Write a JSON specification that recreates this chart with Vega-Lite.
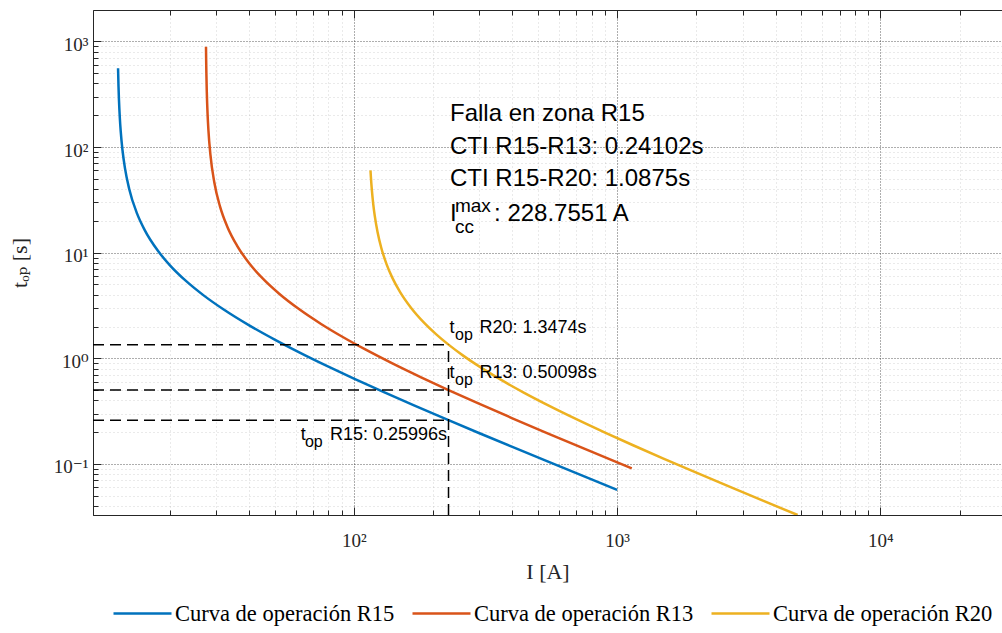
{
  "$schema": "https://vega.github.io/schema/vega-lite/v6.json",
  "autosize": {"type": "none"},
  "padding": {"left": 93, "top": 10, "right": 0, "bottom": 118},
  "width": 909,
  "height": 505,
  "background": "white",
  "config": {
    "view": {"stroke": "#262626", "strokeWidth": 1},
    "axis": {
      "domainColor": "#262626",
      "tickColor": "#262626",
      "labelColor": "#262626",
      "titleColor": "#262626",
      "labelFont": "Liberation Serif, DejaVu Serif, serif",
      "titleFont": "Liberation Serif, DejaVu Serif, serif",
      "titleFontWeight": "normal",
      "labelOverlap": false,
      "labelBound": false,
      "labelFlush": false
    },
    "text": {"font": "Liberation Sans, Arial, sans-serif", "color": "#000000"}
  },
  "datasets": {
    "curves": [
      {"serie": "Curva de operación R15", "I": 12.7, "t": 556},
      {"serie": "Curva de operación R15", "I": 12.75, "t": 374.6},
      {"serie": "Curva de operación R15", "I": 12.8, "t": 281},
      {"serie": "Curva de operación R15", "I": 12.9, "t": 187.3},
      {"serie": "Curva de operación R15", "I": 13.0, "t": 140.5},
      {"serie": "Curva de operación R15", "I": 13.2, "t": 93.7},
      {"serie": "Curva de operación R15", "I": 13.5, "t": 62.4},
      {"serie": "Curva de operación R15", "I": 14, "t": 40.1},
      {"serie": "Curva de operación R15", "I": 15, "t": 23.4},
      {"serie": "Curva de operación R15", "I": 16, "t": 16.53},
      {"serie": "Curva de operación R15", "I": 18, "t": 10.41},
      {"serie": "Curva de operación R15", "I": 20, "t": 7.59},
      {"serie": "Curva de operación R15", "I": 23, "t": 5.40},
      {"serie": "Curva de operación R15", "I": 27, "t": 3.90},
      {"serie": "Curva de operación R15", "I": 32, "t": 2.897},
      {"serie": "Curva de operación R15", "I": 40, "t": 2.051},
      {"serie": "Curva de operación R15", "I": 50, "t": 1.503},
      {"serie": "Curva de operación R15", "I": 65, "t": 1.0725},
      {"serie": "Curva de operación R15", "I": 80, "t": 0.8338},
      {"serie": "Curva de operación R15", "I": 100, "t": 0.643},
      {"serie": "Curva de operación R15", "I": 130, "t": 0.4787},
      {"serie": "Curva de operación R15", "I": 170, "t": 0.357},
      {"serie": "Curva de operación R15", "I": 228.76, "t": 0.25996},
      {"serie": "Curva de operación R15", "I": 300, "t": 0.1955},
      {"serie": "Curva de operación R15", "I": 400, "t": 0.1451},
      {"serie": "Curva de operación R15", "I": 550, "t": 0.1046},
      {"serie": "Curva de operación R15", "I": 750, "t": 0.0762},
      {"serie": "Curva de operación R15", "I": 1000, "t": 0.0569},
      {"serie": "Curva de operación R13", "I": 27.41, "t": 890},
      {"serie": "Curva de operación R13", "I": 27.45, "t": 672.8},
      {"serie": "Curva de operación R13", "I": 27.5, "t": 504.6},
      {"serie": "Curva de operación R13", "I": 27.6, "t": 336.4},
      {"serie": "Curva de operación R13", "I": 27.8, "t": 201.9},
      {"serie": "Curva de operación R13", "I": 28, "t": 144.2},
      {"serie": "Curva de operación R13", "I": 28.5, "t": 84.1},
      {"serie": "Curva de operación R13", "I": 29.5, "t": 45.88},
      {"serie": "Curva de operación R13", "I": 31, "t": 27.28},
      {"serie": "Curva de operación R13", "I": 33, "t": 17.71},
      {"serie": "Curva de operación R13", "I": 36, "t": 11.6},
      {"serie": "Curva de operación R13", "I": 40, "t": 7.947},
      {"serie": "Curva de operación R13", "I": 45, "t": 5.702},
      {"serie": "Curva de operación R13", "I": 52, "t": 4.086},
      {"serie": "Curva de operación R13", "I": 62, "t": 2.909},
      {"serie": "Curva de operación R13", "I": 75, "t": 2.116},
      {"serie": "Curva de operación R13", "I": 90, "t": 1.61},
      {"serie": "Curva de operación R13", "I": 110, "t": 1.2204},
      {"serie": "Curva de operación R13", "I": 140, "t": 0.8955},
      {"serie": "Curva de operación R13", "I": 180, "t": 0.661},
      {"serie": "Curva de operación R13", "I": 228.76, "t": 0.50098},
      {"serie": "Curva de operación R13", "I": 300, "t": 0.3701},
      {"serie": "Curva de operación R13", "I": 400, "t": 0.2708},
      {"serie": "Curva de operación R13", "I": 550, "t": 0.1931},
      {"serie": "Curva de operación R13", "I": 750, "t": 0.1397},
      {"serie": "Curva de operación R13", "I": 950, "t": 0.1094},
      {"serie": "Curva de operación R13", "I": 1137, "t": 0.091},
      {"serie": "Curva de operación R20", "I": 115.6, "t": 60.0},
      {"serie": "Curva de operación R20", "I": 116, "t": 52.0},
      {"serie": "Curva de operación R20", "I": 117, "t": 39.0},
      {"serie": "Curva de operación R20", "I": 118.5, "t": 28.36},
      {"serie": "Curva de operación R20", "I": 120, "t": 22.28},
      {"serie": "Curva de operación R20", "I": 123, "t": 15.6},
      {"serie": "Curva de operación R20", "I": 127, "t": 11.14},
      {"serie": "Curva de operación R20", "I": 133, "t": 7.8},
      {"serie": "Curva de operación R20", "I": 140, "t": 5.777},
      {"serie": "Curva de operación R20", "I": 150, "t": 4.216},
      {"serie": "Curva de operación R20", "I": 165, "t": 3.0},
      {"serie": "Curva de operación R20", "I": 185, "t": 2.166},
      {"serie": "Curva de operación R20", "I": 205, "t": 1.695},
      {"serie": "Curva de operación R20", "I": 228.76, "t": 1.3474},
      {"serie": "Curva de operación R20", "I": 260, "t": 1.061},
      {"serie": "Curva de operación R20", "I": 300, "t": 0.8341},
      {"serie": "Curva de operación R20", "I": 360, "t": 0.6315},
      {"serie": "Curva de operación R20", "I": 440, "t": 0.477},
      {"serie": "Curva de operación R20", "I": 550, "t": 0.3569},
      {"serie": "Curva de operación R20", "I": 700, "t": 0.2657},
      {"serie": "Curva de operación R20", "I": 900, "t": 0.1982},
      {"serie": "Curva de operación R20", "I": 1150, "t": 0.1504},
      {"serie": "Curva de operación R20", "I": 1500, "t": 0.1125},
      {"serie": "Curva de operación R20", "I": 2000, "t": 0.0827},
      {"serie": "Curva de operación R20", "I": 2700, "t": 0.0603},
      {"serie": "Curva de operación R20", "I": 3600, "t": 0.0447},
      {"serie": "Curva de operación R20", "I": 4850, "t": 0.0329}
    ],
    "dashes": [
      {"I": 10.2, "I2": 228.76, "t": 1.3474, "t2": 1.3474},
      {"I": 10.2, "I2": 228.76, "t": 0.50098, "t2": 0.50098},
      {"I": 10.2, "I2": 228.76, "t": 0.25996, "t2": 0.25996},
      {"I": 228.76, "I2": 228.76, "t": 0.0329, "t2": 1.3474}
    ],
    "big": [
      {"I": 228.76, "t": 176.2, "label": "Falla en zona R15"},
      {"I": 228.76, "t": 85.9, "label": "CTI R15-R13: 0.24102s"},
      {"I": 228.76, "t": 42.74, "label": "CTI R15-R20: 1.0875s"},
      {"I": 228.76, "t": 19.93, "label": "I"},
      {"I": 336.3, "t": 19.93, "label": ": 228.7551 A"}
    ],
    "scripts": [
      {"I": 238.9, "t": 24.41, "label": "max"},
      {"I": 238.9, "t": 15.35, "label": "cc"}
    ],
    "tops": [
      {"I": 228.76, "t": 1.7245, "label": "t"},
      {"I": 297.5, "t": 1.7245, "label": "R20: 1.3474s"},
      {"I": 228.76, "t": 0.6467, "label": "t"},
      {"I": 297.5, "t": 0.6467, "label": "R13: 0.50098s"},
      {"I": 62.2, "t": 0.1685, "label": "t"},
      {"I": 80.35, "t": 0.1685, "label": "R15: 0.25996s"}
    ],
    "ops": [
      {"I": 240.0, "t": 1.7245, "label": "op"},
      {"I": 240.0, "t": 0.6467, "label": "op"},
      {"I": 64.55, "t": 0.1685, "label": "op"}
    ]
  },
  "layer": [
    {
      "data": {"name": "curves"},
      "mark": {"type": "line", "strokeWidth": 2.5, "interpolate": "monotone", "clip": true},
      "encoding": {
        "x": {
          "field": "I", "type": "quantitative",
          "scale": {"type": "log", "domain": [10.2, 29000], "nice": false, "zero": false},
          "axis": {
            "orient": "bottom",
            "values": [20,30,40,50,60,70,80,90,100,200,300,400,500,600,700,800,900,1000,2000,3000,4000,5000,6000,7000,8000,9000,10000,20000],
            "labelExpr": "datum.value === 100 ? '10²' : datum.value === 1000 ? '10³' : datum.value === 10000 ? '10⁴' : ''",
            "labelFontSize": 19,
            "labelPadding": 24,
            "tickSize": {"condition": {"test": "indexof([100,1000,10000], datum.value) >= 0", "value": -8}, "value": -5},
            "grid": true,
            "gridColor": "#262626",
            "gridOpacity": {"condition": {"test": "indexof([100,1000,10000], datum.value) >= 0", "value": 0.75}, "value": 0.2},
            "gridDash": {"condition": {"test": "indexof([100,1000,10000], datum.value) >= 0", "value": [1, 2]}, "value": [1, 3]},
            "title": "I [A]",
            "titleFontSize": 22,
            "titlePadding": 8
          }
        },
        "y": {
          "field": "t", "type": "quantitative",
          "scale": {"type": "log", "domain": [0.0329, 1980], "nice": false, "zero": false},
          "axis": {
            "orient": "left",
            "values": [0.04,0.05,0.06,0.07,0.08,0.09,0.1,0.2,0.3,0.4,0.5,0.6,0.7,0.8,0.9,1,2,3,4,5,6,7,8,9,10,20,30,40,50,60,70,80,90,100,200,300,400,500,600,700,800,900,1000],
            "labelExpr": "datum.value === 0.1 ? '10⁻¹' : datum.value === 1 ? '10⁰' : datum.value === 10 ? '10¹' : datum.value === 100 ? '10²' : datum.value === 1000 ? '10³' : ''",
            "labelFontSize": 19,
            "labelPadding": 13,
            "labelOffset": 3,
            "tickSize": {"condition": {"test": "indexof([0.1,1,10,100,1000], datum.value) >= 0", "value": -8}, "value": -5},
            "grid": true,
            "gridColor": "#262626",
            "gridOpacity": {"condition": {"test": "indexof([0.1,1,10,100,1000], datum.value) >= 0", "value": 0.75}, "value": 0.2},
            "gridDash": {"condition": {"test": "indexof([0.1,1,10,100,1000], datum.value) >= 0", "value": [1, 2]}, "value": [1, 3]},
            "title": "tₒₚ [s]",
            "titleFontSize": 22,
            "titlePadding": 22
          }
        },
        "color": {
          "field": "serie", "type": "nominal",
          "scale": {"domain": ["Curva de operación R15", "Curva de operación R13", "Curva de operación R20"], "range": ["#0072BD", "#D95319", "#EDB120"]},
          "legend": {
            "orient": "none",
            "legendX": 19,
            "legendY": 573,
            "direction": "horizontal",
            "title": null,
            "symbolType": "stroke",
            "symbolSize": 3364,
            "symbolStrokeWidth": 2.5,
            "labelFont": "Liberation Serif, serif",
            "labelFontSize": 22.5,
            "labelColor": "#000000",
            "labelLimit": 0,
            "labelOffset": 2,
            "columnPadding": 12,
            "padding": 0
          }
        }
      }
    },
    {
      "data": {"name": "dashes"},
      "mark": {"type": "rule", "strokeDash": [11, 6], "strokeWidth": 1.5, "color": "#000000", "clip": true},
      "encoding": {
        "x": {
          "field": "I", "type": "quantitative",
          "scale": {"type": "log", "domain": [10.2, 29000], "nice": false, "zero": false},
          "axis": {
            "orient": "top",
            "values": [20,30,40,50,60,70,80,90,100,200,300,400,500,600,700,800,900,1000,2000,3000,4000,5000,6000,7000,8000,9000,10000,20000],
            "labels": false,
            "grid": false,
            "domain": false,
            "title": null,
            "tickSize": {"condition": {"test": "indexof([100,1000,10000], datum.value) >= 0", "value": -8}, "value": -5}
          }
        },
        "x2": {"field": "I2"},
        "y": {
          "field": "t", "type": "quantitative",
          "scale": {"type": "log", "domain": [0.0329, 1980], "nice": false, "zero": false},
          "axis": null
        },
        "y2": {"field": "t2"}
      }
    },
    {
      "data": {"name": "big"},
      "mark": {"type": "text", "align": "left", "baseline": "alphabetic", "fontSize": 24, "dx": 1.5},
      "encoding": {
        "x": {"field": "I", "type": "quantitative", "scale": {"type": "log", "domain": [10.2, 29000], "nice": false, "zero": false}, "axis": null},
        "y": {"field": "t", "type": "quantitative", "scale": {"type": "log", "domain": [0.0329, 1980], "nice": false, "zero": false}, "axis": null},
        "text": {"field": "label"}
      }
    },
    {
      "data": {"name": "scripts"},
      "mark": {"type": "text", "align": "left", "baseline": "alphabetic", "fontSize": 19, "dx": 1.5},
      "encoding": {
        "x": {"field": "I", "type": "quantitative", "scale": {"type": "log", "domain": [10.2, 29000], "nice": false, "zero": false}, "axis": null},
        "y": {"field": "t", "type": "quantitative", "scale": {"type": "log", "domain": [0.0329, 1980], "nice": false, "zero": false}, "axis": null},
        "text": {"field": "label"}
      }
    },
    {
      "data": {"name": "tops"},
      "mark": {"type": "text", "align": "left", "baseline": "alphabetic", "fontSize": 18, "dx": 1},
      "encoding": {
        "x": {"field": "I", "type": "quantitative", "scale": {"type": "log", "domain": [10.2, 29000], "nice": false, "zero": false}, "axis": null},
        "y": {"field": "t", "type": "quantitative", "scale": {"type": "log", "domain": [0.0329, 1980], "nice": false, "zero": false}, "axis": null},
        "text": {"field": "label"}
      }
    },
    {
      "data": {"name": "ops"},
      "mark": {"type": "text", "align": "left", "baseline": "alphabetic", "fontSize": 16, "dx": 1, "dy": 7},
      "encoding": {
        "x": {"field": "I", "type": "quantitative", "scale": {"type": "log", "domain": [10.2, 29000], "nice": false, "zero": false}, "axis": null},
        "y": {"field": "t", "type": "quantitative", "scale": {"type": "log", "domain": [0.0329, 1980], "nice": false, "zero": false}, "axis": null},
        "text": {"field": "label"}
      }
    }
  ],
  "resolve": {"axis": {"x": "independent", "y": "independent"}}
}
